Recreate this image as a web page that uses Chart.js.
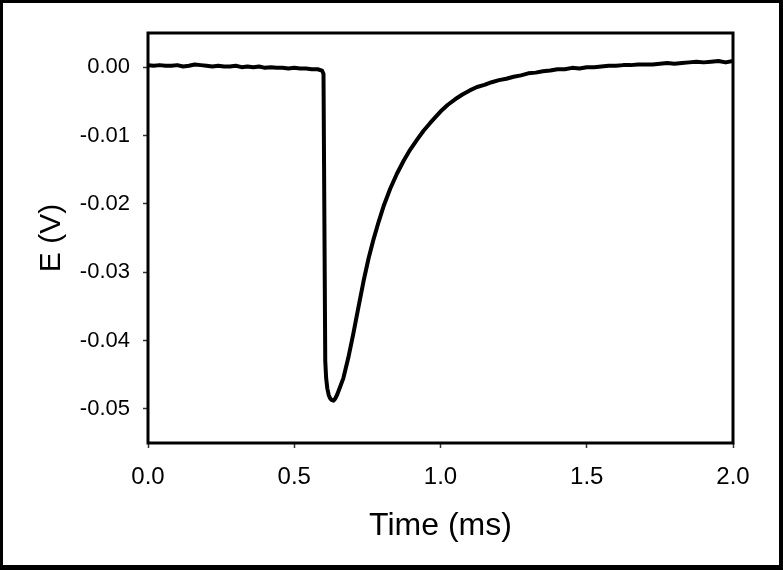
<!DOCTYPE html>
<html>
<head>
<meta charset="utf-8">
<script src="https://cdn.jsdelivr.net/npm/chart.js@4/dist/chart.umd.min.js"></script>
<style>
  html, body { margin: 0; padding: 0; background: #fff; }
  #frame {
    width: 783px; height: 570px; box-sizing: border-box;
    border-style: solid; border-color: #000;
    border-width: 3px 4px 5px 3px;
    background: #fff;
  }
  canvas { display: block; }
</style>
</head>
<body>
<div id="frame"><canvas id="chart" width="776" height="562"></canvas></div>
<script>
// time axis (ms)
const timeMs = [
  0.00, 0.02, 0.04, 0.06, 0.08, 0.10, 0.12, 0.14, 0.16, 0.18,
  0.20, 0.22, 0.24, 0.26, 0.28, 0.30, 0.32, 0.34, 0.36, 0.38,
  0.40, 0.42, 0.44, 0.46, 0.48, 0.50, 0.52, 0.54, 0.56, 0.58, 0.595,
  0.600, 0.606, 0.609, 0.613, 0.618, 0.623, 0.628,
  0.634, 0.640, 0.647, 0.655, 0.668, 0.685, 0.702, 0.720, 0.737, 0.754,
  0.771, 0.788, 0.805, 0.828, 0.851, 0.874, 0.896, 0.920, 0.942, 0.964,
  0.985, 1.000, 1.025, 1.050, 1.075, 1.100, 1.125, 1.150, 1.175, 1.200,
  1.225, 1.250, 1.275, 1.300, 1.325, 1.350, 1.375, 1.400, 1.425, 1.450,
  1.475, 1.500, 1.525, 1.550, 1.575, 1.600, 1.625, 1.650, 1.675, 1.700,
  1.725, 1.750, 1.775, 1.800, 1.825, 1.850, 1.875, 1.900, 1.925, 1.950,
  1.975, 2.000
];

// potential (V)
const potentialV = [
  0.0003, 0.0002, 0.0003, 0.0002, 0.0002, 0.0003, 0.0001, 0.0002, 0.0004, 0.0003,
  0.0002, 0.0001, 0.0002, 0.0001, 0.0001, 0.0002, 0.0000, 0.0001, 0.0000, 0.0001,
  -0.0001, 0.0000, -0.0001, -0.0001, -0.0002, -0.0001, -0.0002, -0.0002, -0.0003, -0.0003, -0.0005,
  -0.0010, -0.0430, -0.0455, -0.0470, -0.0480, -0.0485, -0.0487,
  -0.0488, -0.0485, -0.0479, -0.0470, -0.0455, -0.0425, -0.0390, -0.0350, -0.0313, -0.0280,
  -0.0252, -0.0227, -0.0204, -0.0178, -0.0156, -0.0137, -0.0121, -0.0106, -0.0093, -0.0082,
  -0.0072, -0.0065, -0.0055, -0.0047, -0.0040, -0.0034, -0.0029, -0.0026, -0.0022, -0.0019,
  -0.0017, -0.0014, -0.0012, -0.0009, -0.0008, -0.0006, -0.0005, -0.0003, -0.0003, -0.0001,
  -0.0002, 0.0000, 0.0000, 0.0001, 0.0002, 0.0002, 0.0003, 0.0003, 0.0004, 0.0004,
  0.0004, 0.0005, 0.0006, 0.0005, 0.0006, 0.0007, 0.0008, 0.0007, 0.0008, 0.0009,
  0.0007, 0.0009
];

const xTicks = [0.0, 0.5, 1.0, 1.5, 2.0];
const yTicks = [0.00, -0.01, -0.02, -0.03, -0.04, -0.05];

const points = timeMs.map((t, i) => ({ x: t, y: potentialV[i] }));

// box around the plot area
const plotFrame = {
  id: "plotFrame",
  afterDatasetsDraw(chart) {
    const a = chart.chartArea;
    const ctx = chart.ctx;
    ctx.save();
    ctx.strokeStyle = "#000";
    ctx.lineWidth = 3;
    ctx.strokeRect(a.left, a.top, a.right - a.left, a.bottom - a.top);
    ctx.restore();
  }
};

new Chart(document.getElementById("chart"), {
  type: "line",
  data: {
    datasets: [{
      data: points,
      borderColor: "#000",
      borderWidth: 4,
      borderJoinStyle: "round",
      pointRadius: 0,
      tension: 0,
      fill: false
    }]
  },
  options: {
    responsive: false,
    animation: false,
    layout: { padding: { top: 30, right: 46, left: 0, bottom: 0 } },
    plugins: { legend: { display: false }, tooltip: { enabled: false } },
    scales: {
      x: {
        type: "linear",
        min: 0,
        max: 2,
        afterBuildTicks: s => { s.ticks = xTicks.map(v => ({ value: v })); },
        afterFit: s => { s.height = 122; },
        border: { display: false },
        grid: { drawOnChartArea: false, drawTicks: true, tickLength: 5, tickColor: "#333", tickWidth: 1.5 },
        ticks: {
          padding: 15,
          color: "#000",
          font: { family: "'Liberation Sans', Arial, sans-serif", size: 24 },
          callback: v => Number(v).toFixed(1)
        },
        title: {
          display: true,
          text: "Time (ms)",
          color: "#000",
          font: { family: "'Liberation Sans', Arial, sans-serif", size: 32 },
          padding: { top: 0, bottom: 20 }
        }
      },
      y: {
        min: -0.055,
        max: 0.005,
        afterBuildTicks: s => { s.ticks = yTicks.map(v => ({ value: v })); },
        afterFit: s => { s.width = 145; },
        border: { display: false },
        grid: { drawOnChartArea: false, drawTicks: true, tickLength: 5, tickColor: "#333", tickWidth: 1.5 },
        ticks: {
          padding: 13,
          color: "#000",
          font: { family: "'Liberation Sans', Arial, sans-serif", size: 22 },
          callback: v => Number(v).toFixed(2)
        },
        title: {
          display: true,
          text: "E (V)",
          color: "#000",
          font: { family: "'Liberation Sans', Arial, sans-serif", size: 30 },
          padding: { top: 31, bottom: 0 }
        }
      }
    }
  },
  plugins: [plotFrame]
});
</script>
</body>
</html>
